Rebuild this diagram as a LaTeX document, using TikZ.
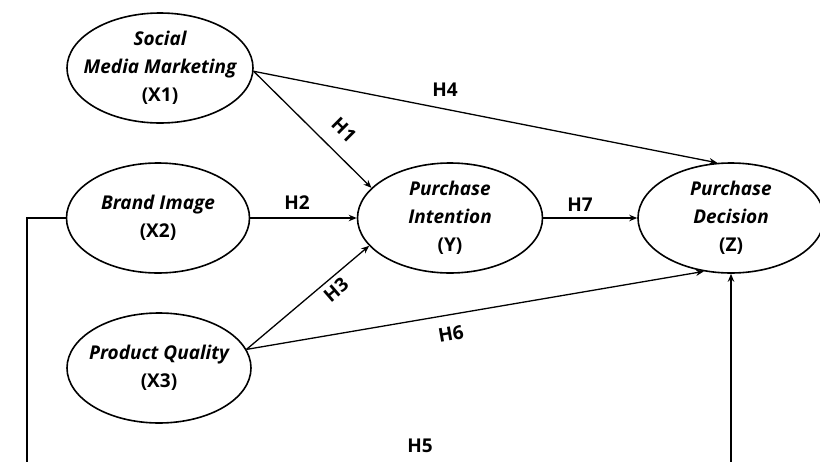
\documentclass[tikz,border=0pt]{standalone}
\usepackage{fontspec}
\setmainfont{Open Sans}
\usetikzlibrary{shapes.geometric,arrows.meta}
\tikzset{
  var/.style={ellipse,draw,line width=1.6pt,inner sep=0pt,minimum width=#1,minimum height=110pt},
  vtext/.style={align=center,font=\fontsize{19}{28}\selectfont,inner sep=0pt},
  hlab/.style={font=\bfseries\fontsize{19}{22}\selectfont,inner sep=0pt},
  arr/.style={line width=1.3pt,-{Stealth[length=8pt,width=6.5pt]}},
}
\begin{document}
\begin{tikzpicture}[x=1pt,y=-1pt]
\clip (0,0) rectangle (820,461);
\fill[white] (0,0) rectangle (820,461);
% ellipses
\node[var=186pt] (x1) at (160,68) {};
\node[var=183pt] (x2) at (158,218) {};
\node[var=184pt] (x3) at (159,368) {};
\node[var=185pt] (y) at (450,218) {};
\node[var=186pt] (z) at (731,218) {};
% texts
\node[vtext] (x1t) at (x1.center) {\bfseries\itshape Social\\\bfseries\itshape Media Marketing\\\bfseries (X1)};
\node[vtext] (x2t) at (x2.center) {\bfseries\itshape Brand Image\\\bfseries (X2)};
\node[vtext] (x3t) at (x3.center) {\bfseries\itshape Product Quality\\\bfseries (X3)};
\node[vtext] (yt) at (y.center) {\bfseries\itshape Purchase\\\bfseries\itshape Intention\\\bfseries (Y)};
\node[vtext] (zt) at (z.center) {\bfseries\itshape Purchase\\\bfseries\itshape Decision\\\bfseries (Z)};
% connectors
\draw[arr] (x1.-2) -- (y.159);
\draw[arr] (x1.-2) -- (z.104);
\draw[arr] (x2.east) -- (y.west);
\draw[arr] (y.east) -- (z.west);
\draw[arr] (x3.12) -- (y.199);
\draw[arr] (x3.12) -- (z.243);
\coordinate (bl) at (27,466);
\coordinate (br) at (731,466);
\draw[arr] (x2.west) -| (bl) -- (br) -- (z.south);
% labels
\node[hlab,rotate=-45] (h1) at (344,130) {H1};
\node[hlab] (h2) at (297,203) {H2};
\node[hlab,rotate=41] (h3) at (336,290) {H3};
\node[hlab] (h4) at (445,90) {H4};
\node[hlab] (h5) at (420,446) {H5};
\node[hlab,rotate=10] (h6) at (451,334) {H6};
\node[hlab] (h7) at (580,205) {H7};
\end{tikzpicture}
\end{document}
